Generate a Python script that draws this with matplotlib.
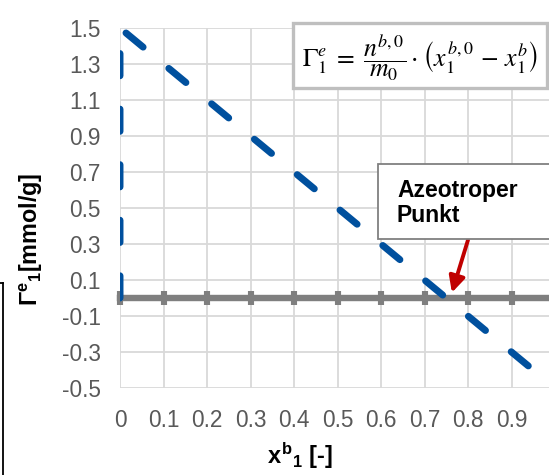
import matplotlib
matplotlib.use("Agg")
import matplotlib.pyplot as plt
from matplotlib.patches import Rectangle
from matplotlib.lines import Line2D

# ---- data ----
excess_x = [0.0, 0.0, 1.0]
excess_y = [0.0, 1.5, -0.5]
zero_x = [0.0, 0.1, 0.2, 0.3, 0.4, 0.5, 0.6, 0.7, 0.8, 0.9, 1.0]
zero_y = [0.0] * len(zero_x)
xticks = [0, 0.1, 0.2, 0.3, 0.4, 0.5, 0.6, 0.7, 0.8, 0.9]
xticklabels = ["0", "0.1", "0.2", "0.3", "0.4", "0.5", "0.6", "0.7", "0.8", "0.9"]
yticks = [1.5, 1.3, 1.1, 0.9, 0.7, 0.5, 0.3, 0.1, -0.1, -0.3, -0.5]
yticklabels = ["1.5", "1.3", "1.1", "0.9", "0.7", "0.5", "0.3", "0.1", "-0.1", "-0.3", "-0.5"]
azeo_tip = (0.763, 0.03)
azeo_text = "Azeotroper\nPunkt"

plt.rcParams['font.family'] = ['Liberation Sans', 'DejaVu Sans']
plt.rcParams['mathtext.fontset'] = 'custom'
plt.rcParams['mathtext.rm'] = 'Liberation Sans:bold'
plt.rcParams['mathtext.it'] = 'Liberation Sans:bold'
plt.rcParams['mathtext.bf'] = 'Liberation Sans:bold'

W, H = 549, 475
fig = plt.figure(figsize=(W / 100, H / 100), dpi=100)

left = 120 / W
right_px = 120 + 435
bottom = 1 - 388 / H
top = 1 - 28 / H
ax = fig.add_axes([left, bottom, (right_px - 120) / W, top - bottom])
ax.set_xlim(0, 1)
ax.set_ylim(-0.5, 1.5)

for s in ax.spines.values():
    s.set_visible(False)
ax.set_xticks(xticks)
ax.set_xticklabels(xticklabels)
ax.set_yticks(yticks)
ax.set_yticklabels(yticklabels)
ax.tick_params(length=0, labelsize=16.3, labelcolor='#595959')
ax.tick_params(axis='x', pad=15)
ax.tick_params(axis='y', pad=14)
ax.grid(True, color='#d9d9d9', linewidth=1.3, zorder=0)
ax.axvline(1.0, color='#d9d9d9', linewidth=1.3, zorder=0)
ax.set_axisbelow(True)

ax.plot(zero_x, zero_y, color='#7f7f7f', linewidth=4.6, marker='|',
        markersize=10.5, markeredgewidth=4.4, zorder=2, clip_on=False)
ln, = ax.plot(excess_x, excess_y, color='#00509e', linewidth=5.0,
              solid_capstyle='round', dash_capstyle='round', zorder=3, clip_on=True)
ln.set_dashes((3.2, 4.8))

# labels
fig.text(31 / W, 1 - 239 / H, r'$\Gamma^{e}{}_{1}$[mmol/g]', rotation=90,
         ha='center', va='center', fontsize=16.8, fontweight='bold')
fig.text(300 / W, 1 - 456 / H, r'$x^{b}{}_{1}$ [-]', ha='center', va='center',
         fontsize=17, fontweight='bold')

# formula box
fig.patches.append(Rectangle((293 / W, 1 - 88 / H), (547 - 293) / W, (88 - 23) / H,
                             transform=fig.transFigure, facecolor='white',
                             edgecolor='#bfbfbf', linewidth=2.4, zorder=5))
fig.text(420 / W, 1 - 57 / H,
         r'$\Gamma_1^e\;=\;\dfrac{n^{b,0}}{m_0}\cdot\left(x_1^{b,0}\,-\,x_1^b\right)$',
         math_fontfamily='stix', fontsize=18.5, ha='center', va='center', zorder=6)

# azeotrope box
fig.patches.append(Rectangle((378 / W, 1 - 239 / H), (560 - 378) / W, (239 - 164) / H,
                             transform=fig.transFigure, facecolor='white',
                             edgecolor='#808080', linewidth=1.3, zorder=5))
fig.text(397 / W, 1 - 203 / H, azeo_text, fontsize=16.5, fontweight='bold',
         ha='left', va='center', linespacing=1.1, zorder=6)

ax.annotate('', xy=azeo_tip, xytext=(468 / W, 1 - 240 / H), textcoords='figure fraction',
            arrowprops=dict(arrowstyle='-|>', color='#c00000', lw=2.8,
                            mutation_scale=24, shrinkA=0, shrinkB=0), zorder=6)

# stray box edge at left
fig.add_artist(Line2D([3 / W, 3 / W], [0, 1 - 283 / H], transform=fig.transFigure,
                      color='black', linewidth=1.3))
fig.add_artist(Line2D([0, 3 / W], [1 - 283 / H, 1 - 283 / H], transform=fig.transFigure,
                      color='black', linewidth=1.3))

fig.savefig('out.png', dpi=100)
